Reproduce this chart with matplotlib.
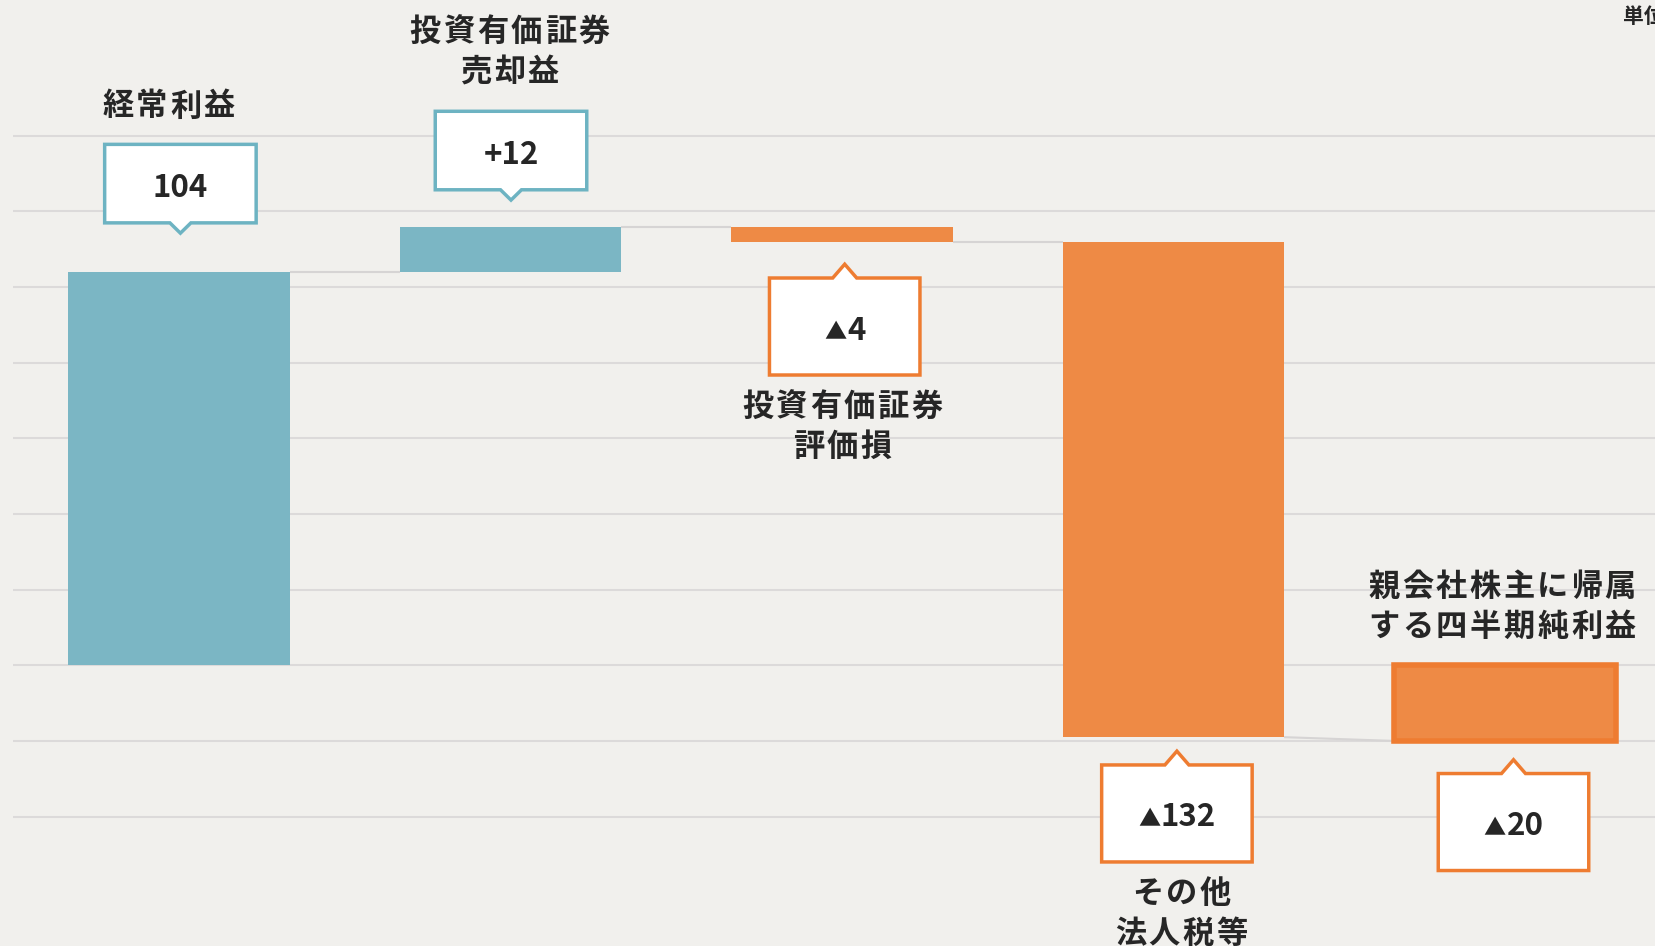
import matplotlib
matplotlib.use("Agg")
import matplotlib.pyplot as plt
import matplotlib.transforms as mtransforms
from matplotlib.patches import Polygon

plt.rcParams['font.family'] = ['Noto Sans CJK JP', 'DejaVu Sans']

# ---------------- data ----------------
categories = ["経常利益", "投資有価証券\n売却益", "投資有価証券\n評価損",
              "その他\n法人税等", "親会社株主に帰属\nする四半期純利益"]
deltas = [104, 12, -4, -131]          # step sizes as drawn
final_total = -20
value_labels = ["104", "+12", "▲4", "▲132", "▲20"]
grid_values = [-40, -20, 0, 20, 40, 60, 80, 100, 120, 140]
unit_label = "単位：億円"

# ---------------- style ----------------
BG = "#F1F0ED"
GRID = "#DCDADA"
CONN = "#D6D4D4"
TEAL = "#7BB6C4"
TEAL_EDGE = "#6DB3C2"
ORANGE = "#EE8A45"
ORANGE_EDGE = "#EE7C31"
TXT = "#262626"
DPI = 100

callout_side = ['above', 'above', 'below', 'below', 'below']
tip_px = [38.8, 26.5, -22.5, -14.0, -18.8]
box_dx_px = [1.4, 0.5, 2.7, 3.4, 8.5]
label_dy_px = [165.5, 194.6, -165.3, -157.0, 154.0]
label_dx_px = [-10.3, -0.8, 0.4, 7.7, -3.0]
LINE_GAP = 40
CHAR_ADV = 33.8   # px per character (letter-spaced labels)
NUM_SIZE = 22.5
TRI_SIZE = 16.0

fig = plt.figure(figsize=(16.56, 9.46), dpi=DPI, facecolor=BG)
ax = fig.add_axes([0, 0, 1, 1])
ax.set_facecolor(BG)
XMAX = 4.4555
ax.set_xlim(-0.54, XMAX)
ax.set_ylim(-74.22, 175.91)
ax.axis('off')
renderer = fig.canvas.get_renderer()

# gridlines
ax.hlines(grid_values, -0.5, XMAX, colors=GRID, linewidth=1.5, zorder=1)

# waterfall geometry
starts, ends = [], []
level = 0
for d in deltas:
    starts.append(level)
    level += d
    ends.append(level)

W = 0.667
xs = list(range(len(categories)))
bottoms = [min(s, e) for s, e in zip(starts, ends)] + [min(0, final_total)]
heights = [abs(d) for d in deltas] + [abs(final_total)]
colors = [TEAL if d > 0 else ORANGE for d in deltas] + [ORANGE]

ax.bar(xs[:-1], heights[:-1], bottom=bottoms[:-1], width=W, color=colors[:-1],
       linewidth=0, zorder=3)
ax.bar(xs[-1], heights[-1], bottom=bottoms[-1], width=W, color=colors[-1],
       edgecolor=ORANGE_EDGE, linewidth=4, joinstyle='miter', zorder=3)

# connectors
for i in range(len(deltas) - 1):
    ax.plot([xs[i] + W / 2, xs[i + 1] - W / 2], [ends[i], ends[i]],
            color=CONN, linewidth=1.5, zorder=2, solid_capstyle='butt')
ax.plot([xs[-2] + W / 2, xs[-1] - W / 2], [ends[-1], final_total],
        color=CONN, linewidth=1.5, zorder=2, solid_capstyle='butt')

tops = [max(s, e) for s, e in zip(starts, ends)] + [max(0, final_total)]
lows = bottoms


def px_trans(x, y):
    return fig.dpi_scale_trans + mtransforms.ScaledTranslation(x, y, ax.transData)


def spaced_text(tr, cx, cy, s, **kw):
    n = len(s)
    for k, ch in enumerate(s):
        ox = cx + (k - (n - 1) / 2) * CHAR_ADV
        ax.text(ox / DPI, cy / DPI, ch, transform=tr, ha='center', va='center', **kw)


def value_text(tr, cx, by, s):
    kw = dict(transform=tr, va='baseline', fontweight='bold', color=TXT, zorder=6)
    if s.startswith("▲"):
        t1 = ax.text(0, by / DPI, "▲", fontsize=TRI_SIZE, ha='left', **kw)
        t2 = ax.text(0, by / DPI, s[1:], fontsize=NUM_SIZE, ha='left', **kw)
        w1 = t1.get_window_extent(renderer).width
        w2 = t2.get_window_extent(renderer).width
        gap = 0.5
        left = cx - (w1 + gap + w2) / 2
        t1.set_x(left / DPI)
        t2.set_x((left + w1 + gap) / DPI)
    else:
        ax.text(cx / DPI, by / DPI, s, fontsize=NUM_SIZE, ha='center', **kw)


for i in xs:
    side = callout_side[i]
    s = 1 if side == 'above' else -1
    anchor = tops[i] if side == 'above' else lows[i]
    positive = (i < len(deltas) and deltas[i] > 0)
    edge = TEAL_EDGE if positive else ORANGE_EDGE
    if positive:
        bw, bh, pw, ph = 151.5, 78.5, 21, 10.3
    else:
        bw, bh, pw, ph = 150.5, 97.0, 24, 13.8
    tx, ty = box_dx_px[i], tip_px[i]
    verts = [(tx, ty), (tx + pw / 2, ty + s * ph), (tx + bw / 2, ty + s * ph),
             (tx + bw / 2, ty + s * (ph + bh)), (tx - bw / 2, ty + s * (ph + bh)),
             (tx - bw / 2, ty + s * ph), (tx - pw / 2, ty + s * ph)]
    verts = [(a / DPI, b / DPI) for a, b in verts]
    tr = px_trans(xs[i], anchor)
    ax.add_patch(Polygon(verts, closed=True, transform=tr, facecolor='white',
                         edgecolor=edge, linewidth=2.5, joinstyle='miter', zorder=5))
    cy = ty + s * (ph + bh / 2)
    value_text(tr, tx, cy - 13, value_labels[i])
    # category label (letter-spaced)
    for j, line in enumerate(categories[i].split("\n")):
        ly = label_dy_px[i] - j * LINE_GAP
        spaced_text(tr, label_dx_px[i], ly, line, fontsize=22.5,
                    fontweight='bold', color=TXT, zorder=6)

fig.text(1623 / 1656, 1 - 16 / 946, unit_label, ha='left', va='center',
         fontsize=15, fontweight='bold', color=TXT)

fig.savefig("out.png", dpi=DPI, facecolor=BG)
